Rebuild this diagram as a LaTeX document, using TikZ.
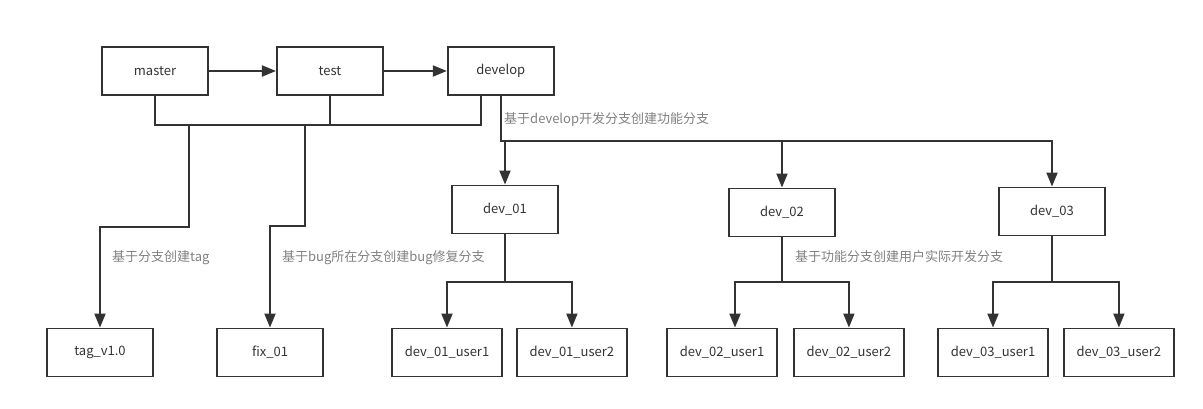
\documentclass[tikz,border=0pt]{standalone}
\usepackage{fontspec}
\setmainfont{Noto Sans CJK SC}
\usetikzlibrary{positioning,arrows.meta}

\definecolor{linegray}{HTML}{333333}
\definecolor{notegray}{HTML}{808080}

\tikzset{
  branch/.style={draw=linegray,line width=1.9pt,text=linegray,minimum width=106pt,minimum height=48pt,inner sep=0pt},
  userbranch/.style={branch,minimum width=110pt},
  link/.style={draw=linegray,line width=1.9pt},
  arr/.style={link,-{Triangle[length=14pt,width=11pt]}},
  note/.style={text=notegray,anchor=west,inner sep=0pt}
}

\begin{document}
\begin{tikzpicture}[x=1pt,y=-1pt,font=\fontsize{13}{15}\selectfont]
  \useasboundingbox (0,0) rectangle (1203,408);

  \node[branch] (master) at (155,71) {master};
  \node[branch,right=67pt of master] (test) {test};
  \node[branch,right=63pt of test] (develop) {develop};

  \node[branch] (dev01) at (505,209.5) {dev\_01};
  \node[branch] (dev02) at (782,212.5) {dev\_02};
  \node[branch] (dev03) at (1052,211.5) {dev\_03};

  \node[branch] (tag) at (100,352.5) {tag\_v1.0};
  \node[branch] (fix) at (270,352.5) {fix\_01};
  \node[userbranch] (u011) at (447,352.5) {dev\_01\_user1};
  \node[userbranch,right=13pt of u011] (u012) {dev\_01\_user2};
  \node[userbranch] (u021) at (722,352.5) {dev\_02\_user1};
  \node[userbranch,right=15pt of u021] (u022) {dev\_02\_user2};
  \node[userbranch] (u031) at (993,352.5) {dev\_03\_user1};
  \node[userbranch,right=14pt of u031] (u032) {dev\_03\_user2};

  %master>test>develop
  \draw[arr] (master) -- (test);
  \draw[arr] (test) -- (develop);

  %branches>tag,fix
  \coordinate (bus) at (0,125);
  \draw[link] (master.south) |- ([xshift=-20pt]develop.south |- bus) -- ([xshift=-20pt]develop.south);
  \draw[link] (test.south) -- (test.south |- bus);
  \coordinate (tagfork) at (189,125);
  \coordinate (fixfork) at (305,125);
  \draw[arr] (tagfork) -- ++(0,102) -| (tag.north);
  \draw[arr] (fixfork) -- ++(0,101) -| (fix.north);
  \node[note] (tagnote) at (112,258) {基于分支创建tag};
  \node[note] (fixnote) at (282,258) {基于bug所在分支创建bug修复分支};

  %develop>dev
  \draw[arr] (develop.south) -- ++(0,45) coordinate (devbus) -| (dev03.north);
  \draw[arr] (dev01.north |- devbus) -- (dev01.north);
  \draw[arr] (dev02.north |- devbus) -- (dev02.north);
  \node[note] (devnote) at (504,119) {基于develop开发分支创建功能分支};

  %dev>users
  \foreach \d/\s in {01/0,02/13,03/0} {
    \draw[link] (dev\d.south) -- (dev\d.south |- 0,282) coordinate (ub\d);
    \draw[arr] (ub\d) -| ([xshift=\s pt]u\d1.north);
    \draw[arr] (ub\d) -| (u\d2.north);
  }
  \node[note] (usernote) at (795,257) {基于功能分支创建用户实际开发分支};
\end{tikzpicture}
\end{document}
